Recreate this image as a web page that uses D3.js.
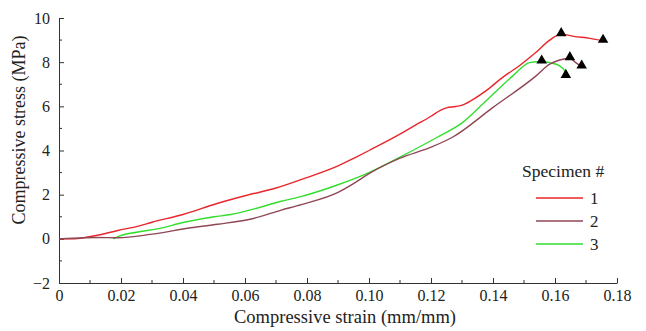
<!DOCTYPE html>
<html><head><meta charset="utf-8">
<script src="https://cdn.jsdelivr.net/npm/d3@7"></script>
<style>body{margin:0;background:#fff}svg{display:block}svg text{font-family:'Liberation Serif','DejaVu Serif',serif;fill:#222}</style>
</head><body>
<svg id="c" width="646" height="331"></svg>
<script>
const xTicks = [0,0.02,0.04,0.06,0.08,0.10,0.12,0.14,0.16,0.18];
const xTickLabels = ["0","0.02","0.04","0.06","0.08","0.10","0.12","0.14","0.16","0.18"];
const yTicks = [-2,0,2,4,6,8,10];
const yTickLabels = ["\u22122","0","2","4","6","8","10"];
const seriesNames = ["1","2","3"];
const strain1 = [0,0.005,0.008,0.012,0.019,0.025,0.030,0.040,0.051,0.060,0.070,0.078,0.090,0.0954,0.100,0.1107,0.115,0.120,0.123,0.125,0.128,0.1305,0.134,0.1377,0.143,0.1486,0.1535,0.1583,0.162,0.166,0.1713,0.1755];
const stress1 = [0,0,0.05,0.15,0.38,0.55,0.75,1.1,1.6,1.95,2.3,2.68,3.3,3.67,4.0,4.8,5.15,5.55,5.82,5.93,5.99,6.08,6.35,6.7,7.3,7.85,8.4,9.0,9.27,9.17,9.08,8.97];
const strain2 = [0,0.008,0.012,0.019,0.0295,0.0425,0.0512,0.062,0.0717,0.0782,0.090,0.095,0.100,0.110,0.120,0.1269,0.1399,0.1539,0.1583,0.1615,0.1648,0.1665,0.1686];
const stress2 = [0,0.05,0.06,0.05,0.2,0.5,0.66,0.9,1.3,1.55,2.1,2.5,2.95,3.65,4.15,4.6,5.94,7.38,7.91,8.1,8.18,8.0,7.8];
const strain3 = [0.0175,0.019,0.025,0.0317,0.0404,0.050,0.0555,0.062,0.0717,0.0782,0.090,0.100,0.110,0.122,0.130,0.1366,0.1464,0.1518,0.1557,0.1583,0.1615,0.1632,0.1635];
const stress3 = [0,0.1,0.3,0.45,0.75,1.0,1.1,1.32,1.7,1.92,2.45,3.0,3.7,4.6,5.25,6.09,7.38,7.98,8.03,7.98,7.83,7.6,7.38];
const markX = [0.162,0.1755,0.1648,0.1686,0.1557,0.1635];
const markY = [9.27,8.97,8.18,7.8,8.03,7.38];
const colors = ["#e8262b","#8f4655","#33dd2e"];

const svg = d3.select("#c");
const x = d3.scaleLinear().domain([0,0.18]).range([59,617]);
const y = d3.scaleLinear().domain([-2,10]).range([283,18]);
const axisColor = "#333";
const FONT = "'Liberation Serif','DejaVu Serif',serif";

const xMinor = d3.range(0.01,0.18,0.02);
const yMinor = d3.range(-1,10,2);
svg.append("g").selectAll("line").data(xMinor).join("line")
  .attr("x1",d=>x(d)).attr("x2",d=>x(d)).attr("y1",y(-2)).attr("y2",y(-2)-3)
  .attr("stroke",axisColor);
svg.append("g").selectAll("line").data(yMinor).join("line")
  .attr("y1",d=>y(d)).attr("y2",d=>y(d)).attr("x1",x(0)).attr("x2",x(0)+3)
  .attr("stroke",axisColor);

const xAxis = d3.axisBottom(x).tickValues(xTicks).tickFormat((d,i)=>xTickLabels[i]).tickSizeInner(-5).tickSizeOuter(0).tickPadding(7);
const gx = svg.append("g").attr("transform",`translate(0,${y(-2)})`).call(xAxis).attr("font-family",FONT);
gx.selectAll("text").style("font-size","16px").attr("fill","#222");
gx.selectAll("line,path").attr("stroke",axisColor);

const yAxis = d3.axisLeft(y).tickValues(yTicks).tickFormat((d,i)=>yTickLabels[i]).tickSizeInner(-5).tickSizeOuter(0).tickPadding(9);
const gy = svg.append("g").attr("transform",`translate(${x(0)},0)`).call(yAxis).attr("font-family",FONT);
gy.selectAll("text").style("font-size","16px").attr("fill","#222");
gy.selectAll("line,path").attr("stroke",axisColor);

svg.append("text").attr("x",345).attr("y",323).attr("text-anchor","middle")
  .style("font-size","18.5px").text("Compressive strain (mm/mm)");
svg.append("text").attr("transform",`translate(25,130) rotate(-90)`).attr("text-anchor","middle")
  .style("font-size","18px").text("Compressive stress (MPa)");

const line = d3.line().x(d=>x(d[0])).y(d=>y(d[1])).curve(d3.curveMonotoneX);
const data = [d3.zip(strain1,stress1), d3.zip(strain2,stress2), d3.zip(strain3,stress3)];
[0,2,1].forEach(i=>{
  svg.append("path").datum(data[i]).attr("d",line).attr("fill","none")
    .attr("stroke",colors[i]).attr("stroke-width",1.4);
});

const tri = d3.symbol().type(d3.symbolTriangle).size(48);
svg.append("g").selectAll("path").data(d3.zip(markX,markY)).join("path")
  .attr("d",tri).attr("transform",d=>`translate(${x(d[0])},${y(d[1])-1})`).attr("fill","#000");

const lg = svg.append("g");
lg.append("text").attr("x",522).attr("y",177).style("font-size","17.5px").text("Specimen #");
seriesNames.forEach((n,i)=>{
  const yy = 198 + i*23;
  lg.append("line").attr("x1",536).attr("x2",583).attr("y1",yy).attr("y2",yy)
    .attr("stroke",colors[i]).attr("stroke-width",1.4);
  lg.append("text").attr("x",590).attr("y",yy+6).style("font-size","17px").text(n);
});
</script>
</body></html>
